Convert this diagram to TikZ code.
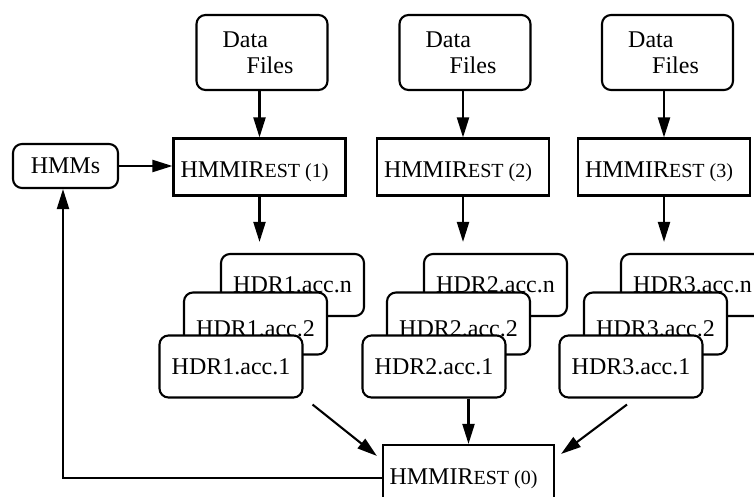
\documentclass[tikz,border=0pt]{standalone}
\usepackage{fontspec}
\setmainfont{Liberation Serif}
\usetikzlibrary{arrows.meta,calc}
\newcommand\hmmilabel[1]{HMMIR{\fontsize{20}{20}\selectfont EST (#1)}\hspace*{10pt}}
\begin{document}
\begin{tikzpicture}[x=1pt,y=-1pt,
  font=\fontsize{24}{26}\selectfont,
  rbox/.style={draw, rounded corners=9pt, fill=white, inner sep=0pt, line width=2.1pt},
  sbox/.style={draw, fill=white, inner sep=0pt, line width=2.1pt, minimum width=172pt, minimum height=57pt, text height=22pt, text depth=0pt},
  databox/.style={rbox, minimum width=131pt, minimum height=75pt, align=left},
  hdr/.style={rbox, minimum width=143pt, minimum height=62pt},
  arr/.style={line width=2.1pt, -{Triangle[length=20pt,width=12pt]}}]
\useasboundingbox (0,0) rectangle (754,497);
\clip (0,0) rectangle (754,497);

% data files
\node[databox] (d1) at (262,52.5) {Data\\\hspace*{24pt}Files\hspace*{8pt}};
\node[databox] (d2) at (465,52.5) {Data\\\hspace*{24pt}Files\hspace*{8pt}};
\node[databox] (d3) at (667.5,52.5) {Data\\\hspace*{24pt}Files\hspace*{8pt}};

% HMMIRest nodes
\node[sbox] (h1) at (259.5,167) {\hmmilabel{1}};
\node[sbox] (h2) at (463,167) {\hmmilabel{2}};
\node[sbox] (h3) at (664,167) {\hmmilabel{3}};
\node[sbox, minimum width=171pt] (h0) at (468.5,473.5) {\hmmilabel{0}};

% HMMs
\node[rbox, minimum width=105pt, minimum height=44pt] (hmms) at (65.5,166) {HMMs};

% accumulator stacks
\foreach \i/\dx in {1/0,2/203,3/400}{
  \node[hdr] (hdrn\i) at (292.5+\dx,285) {HDR\i.acc.n};
  \node[hdr, text height=25pt, text depth=0pt] (hdrb\i) at (255.5+\dx,323.5) {HDR\i.acc.2};
  \node[hdr] (hdra\i) at (231+\dx,366.5) {HDR\i.acc.1};
}

% arrows
\draw[arr] (h1.north |- d1.south) -- (h1.north);
\draw[arr] (h2.north |- d2.south) -- (h2.north);
\draw[arr] (h3.north |- d3.south) -- (h3.north);
\draw[arr] (hmms.east) -- (hmms.east -| h1.west);
\draw[arr, shorten >=11pt] (h1.south) -- (h1.south |- hdrn1.north);
\draw[arr, shorten >=11pt] (h2.south) -- (h2.south |- hdrn2.north);
\draw[arr, shorten >=11pt] (h3.south) -- (h3.south |- hdrn3.north);

\coordinate (s1) at ($(hdra1.south east)+(9,6)$);
\coordinate (t1) at ($(h0.north west)+(-5,12)$);
\coordinate (s3) at ($(hdra3.south)+(-4,6)$);
\coordinate (t3) at ($(h0.north east)+(6,10)$);
\draw[arr] (s1) -- (t1);
\draw[arr] (h0.north |- hdra2.south) -- (h0.north);
\draw[arr] (s3) -- (t3);

\draw[arr] ([yshift=-4.5pt]h0.west) -| ([xshift=-2.5pt]hmms.south);
\end{tikzpicture}
\end{document}
